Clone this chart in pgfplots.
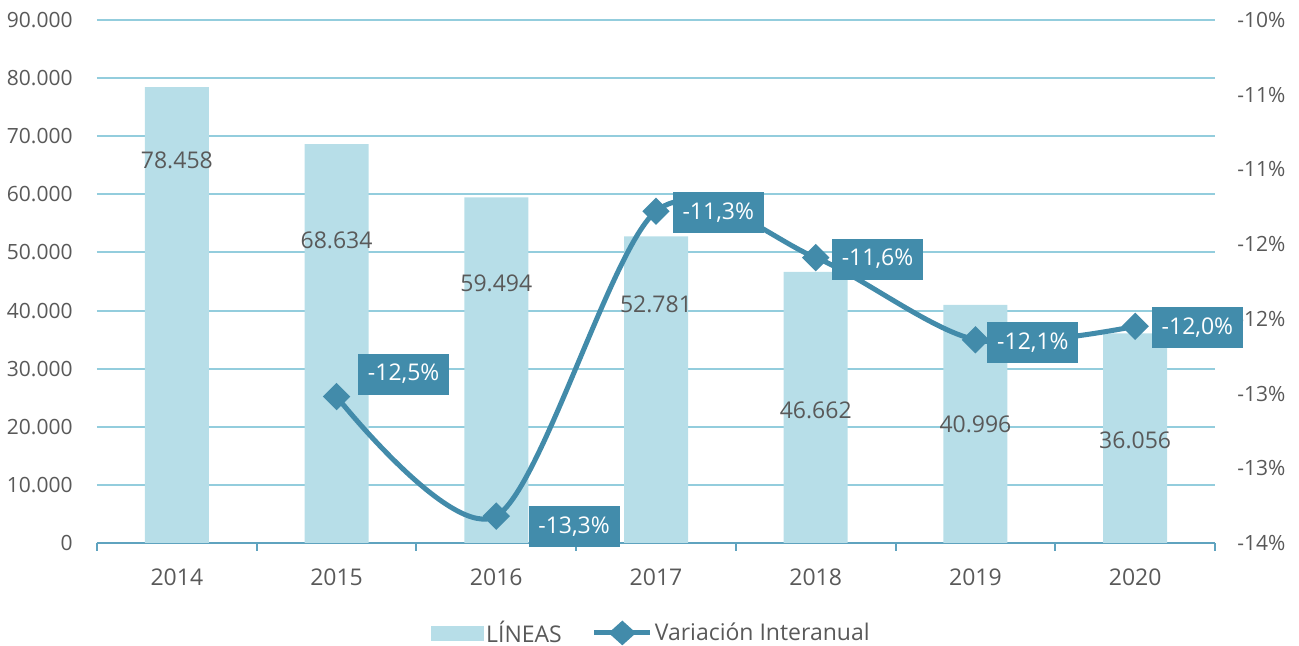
\documentclass[border=0pt]{standalone}
\usepackage{pgfplots}
\pgfplotsset{compat=1.18}
\usepackage{fontspec}
\setmainfont{Open Sans}
\definecolor{barc}{HTML}{B7DEE8}
\definecolor{linec}{HTML}{428BAA}
\definecolor{boxc}{HTML}{428CAB}
\definecolor{gridc}{HTML}{93CDDD}
\definecolor{axc}{HTML}{5FA3BF}
\definecolor{textc}{HTML}{595959}
\newcommand{\tfont}{\fontsize{10.5}{12}\selectfont}
\newcommand{\lfont}{\fontsize{11.5}{13}\selectfont}
\begin{document}
\begin{tikzpicture}
\pgfplotsset{every axis/.append style={scale only axis, width=559pt, height=261.5pt, xmin=-0.5, xmax=6.5, scaled ticks=false}}
\path[use as bounding box] (-48.5pt,-51.5pt) rectangle (601pt,271.5pt);
\begin{axis}[
  ymin=0, ymax=90000,
  ytick={0,10000,20000,30000,40000,50000,60000,70000,80000,90000},
  yticklabels={0,10.000,20.000,30.000,40.000,50.000,60.000,70.000,80.000,90.000},
  axis x line*=bottom, axis y line*=left,
  x axis line style={-, draw=axc, line width=1pt},
  y axis line style={draw=none},
  ymajorgrids, grid style={gridc, line width=1pt},
  major tick length=0pt,
  xtick={0,1,2,3,4,5,6},
  xticklabels={2014,2015,2016,2017,2018,2019,2020},
  minor xtick={-0.5,0.5,1.5,2.5,3.5,4.5,5.5,6.5},
  minor tick length=4pt, tick align=outside,
  minor tick style={axc, line width=1pt},
  yticklabel style={font=\tfont, text=textc, anchor=east, inner sep=0pt, xshift=-12pt},
  xticklabel style={font=\lfont, text=textc, anchor=center, inner sep=0pt, yshift=-17pt},
  ybar, bar width=32pt,
  clip=false,
]
\addplot[fill=barc, draw=none] coordinates {(0,78458) (1,68634) (2,59494) (3,52781) (4,46662) (5,40996) (6,36056)};
\node[text=textc, font=\lfont] at (axis cs:0,65900) {78.458};
\node[text=textc, font=\lfont] at (axis cs:1,52100) {68.634};
\node[text=textc, font=\lfont] at (axis cs:2,44700) {59.494};
\node[text=textc, font=\lfont] at (axis cs:3,41100) {52.781};
\node[text=textc, font=\lfont] at (axis cs:4,22900) {46.662};
\node[text=textc, font=\lfont] at (axis cs:5,20500) {40.996};
\node[text=textc, font=\lfont] at (axis cs:6,17700) {36.056};
\end{axis}
\begin{axis}[
  ymin=-13.5, ymax=-10,
  axis x line=none, axis y line*=right,
  y axis line style={draw=none},
  ytick={-13.5,-13,-12.5,-12,-11.5,-11,-10.5,-10},
  yticklabels={-14\%,-13\%,-13\%,-12\%,-12\%,-11\%,-11\%,-10\%},
  major tick length=0pt,
  yticklabel style={font=\tfont, text=textc, anchor=west, inner sep=0pt, xshift=11pt},
  clip=false,
  legend columns=2,
  legend style={at={(0.496,-0.172)}, anchor=center, draw=none, fill=none,
    font=\lfont, text=textc, inner sep=0pt,
    nodes={inner sep=1pt},
    /tikz/every even column/.append style={column sep=14pt}},
]
\addlegendimage{legend image code/.code={\fill[barc] (0pt,-3.5pt) rectangle (26pt,3.5pt);}}
\addlegendentry{LÍNEAS}
\addplot[linec, line width=2.5pt, smooth, mark=square*, mark size=3.6pt, mark options={rotate=45, solid},
  legend image code/.code={\draw[linec, line width=2.5pt] (0pt,0pt) -- (28pt,0pt);
    \fill[linec] (14pt,4.5pt) -- (19pt,0pt) -- (14pt,-4.5pt) -- (9pt,0pt) -- cycle;}]
  coordinates {(1,-12.52) (2,-13.32) (3,-11.28) (4,-11.59) (5,-12.14) (6,-12.05)};
\addlegendentry{Variación Interanual}
\tikzset{lbl/.style={fill=boxc, text=white, font=\lfont, inner sep=0pt, minimum width=45.5pt, minimum height=20.5pt}}
\node[lbl] at (axis cs:1.42,-12.37) {-12,5\%};
\node[lbl] at (axis cs:2.487,-13.39) {-13,3\%};
\node[lbl] at (axis cs:3.39,-11.29) {-11,3\%};
\node[lbl] at (axis cs:4.387,-11.60) {-11,6\%};
\node[lbl] at (axis cs:5.36,-12.16) {-12,1\%};
\node[lbl] at (axis cs:6.39,-12.06) {-12,0\%};
\end{axis}
\end{tikzpicture}
\end{document}
